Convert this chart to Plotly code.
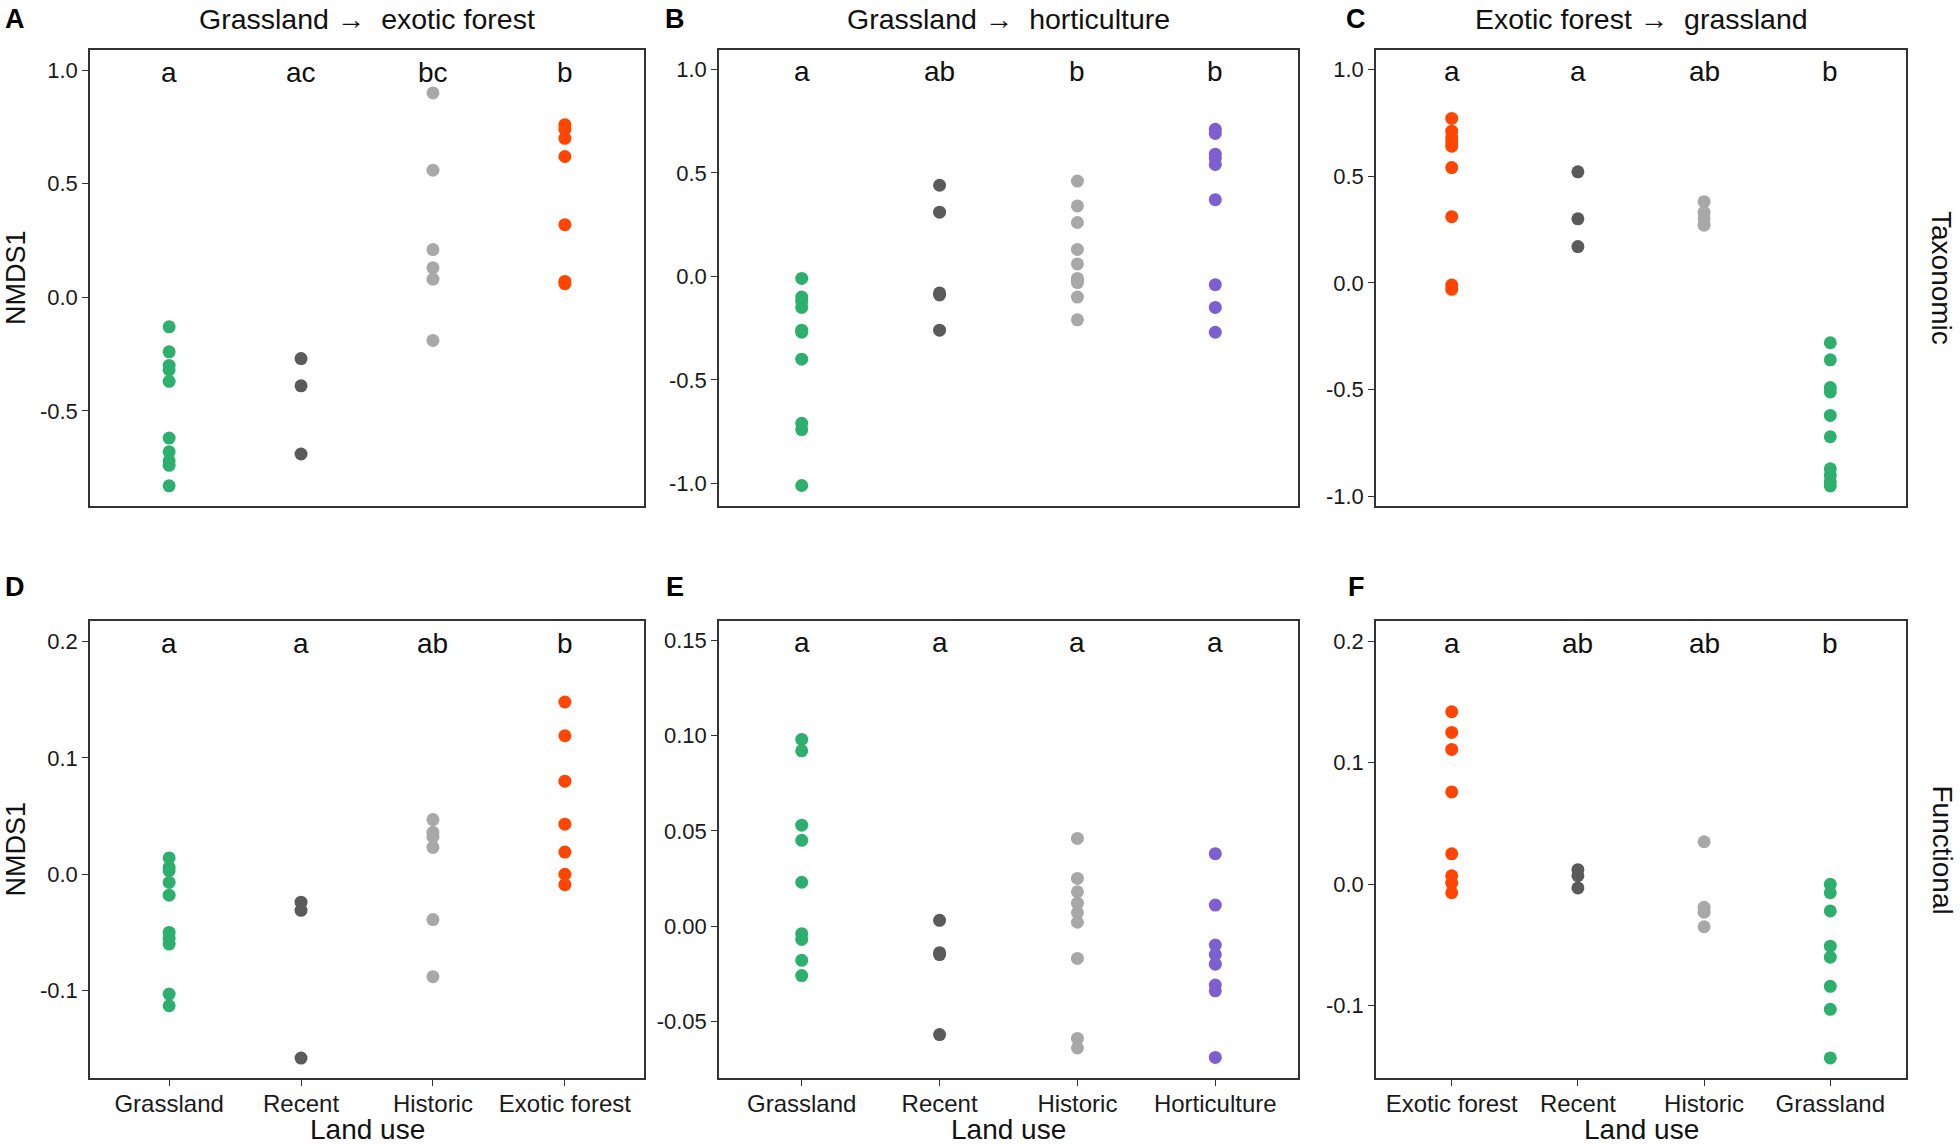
import plotly.graph_objects as go

# ---------------- DATA ----------------
TOP_TITLES = ["Grassland \u2192  exotic forest", "Grassland \u2192  horticulture", "Exotic forest \u2192  grassland"]
ROW_LABELS = ["Taxonomic", "Functional"]
PANEL_TAGS = ["A", "B", "C", "D", "E", "F"]

CATS_A = ["Grassland", "Recent", "Historic", "Exotic forest"]
CATS_B = ["Grassland", "Recent", "Historic", "Horticulture"]
CATS_C = ["Exotic forest", "Recent", "Historic", "Grassland"]

# Panel A (taxonomic, grassland -> exotic forest)
A_GRASSLAND = [-0.13, -0.24, -0.30, -0.32, -0.37, -0.62, -0.68, -0.72, -0.74, -0.83]
A_RECENT = [-0.27, -0.39, -0.69]
A_HISTORIC = [0.90, 0.56, 0.21, 0.13, 0.08, -0.19]
A_EXOTIC = [0.76, 0.74, 0.70, 0.62, 0.32, 0.07, 0.06]
A_LETTERS = ["a", "ac", "bc", "b"]

# Panel B (taxonomic, grassland -> horticulture)
B_GRASSLAND = [-0.01, -0.10, -0.12, -0.15, -0.26, -0.27, -0.40, -0.71, -0.74, -1.01]
B_RECENT = [0.44, 0.31, -0.08, -0.09, -0.26]
B_HISTORIC = [0.46, 0.34, 0.26, 0.13, 0.06, -0.01, -0.02, -0.03, -0.10, -0.21]
B_HORTI = [0.71, 0.69, 0.59, 0.57, 0.54, 0.37, -0.04, -0.15, -0.27]
B_LETTERS = ["a", "ab", "b", "b"]

# Panel C (taxonomic, exotic forest -> grassland)
C_EXOTIC = [0.77, 0.71, 0.68, 0.66, 0.64, 0.54, 0.31, -0.01, -0.03]
C_RECENT = [0.52, 0.30, 0.17]
C_HISTORIC = [0.38, 0.33, 0.30, 0.27]
C_GRASSLAND = [-0.28, -0.36, -0.49, -0.51, -0.62, -0.72, -0.87, -0.90, -0.93, -0.95]
C_LETTERS = ["a", "a", "ab", "b"]

# Panel D (functional, grassland -> exotic forest)
D_GRASSLAND = [0.014, 0.006, 0.003, -0.007, -0.018, -0.050, -0.055, -0.060, -0.103, -0.113]
D_RECENT = [-0.024, -0.031, -0.158]
D_HISTORIC = [0.047, 0.036, 0.032, 0.023, -0.039, -0.088]
D_EXOTIC = [0.148, 0.119, 0.080, 0.043, 0.019, 0.000, -0.009]
D_LETTERS = ["a", "a", "ab", "b"]

# Panel E (functional, grassland -> horticulture)
E_GRASSLAND = [0.098, 0.092, 0.053, 0.045, 0.023, -0.004, -0.007, -0.018, -0.026]
E_RECENT = [0.003, -0.014, -0.015, -0.057]
E_HISTORIC = [0.046, 0.025, 0.018, 0.012, 0.007, 0.002, -0.017, -0.059, -0.064]
E_HORTI = [0.038, 0.011, -0.010, -0.015, -0.020, -0.031, -0.034, -0.069]
E_LETTERS = ["a", "a", "a", "a"]

# Panel F (functional, exotic forest -> grassland)
F_EXOTIC = [0.142, 0.125, 0.111, 0.076, 0.025, 0.007, 0.001, -0.007]
F_RECENT = [0.012, 0.007, -0.003]
F_HISTORIC = [0.035, -0.019, -0.023, -0.035]
F_GRASSLAND = [0.000, -0.007, -0.022, -0.051, -0.060, -0.084, -0.103, -0.143]
F_LETTERS = ["a", "ab", "ab", "b"]

# y tick values
A_TICKS = [-0.5, 0.0, 0.5, 1.0]
B_TICKS = [-1.0, -0.5, 0.0, 0.5, 1.0]
C_TICKS = [-1.0, -0.5, 0.0, 0.5, 1.0]
D_TICKS = [-0.1, 0.0, 0.1, 0.2]
E_TICKS = [-0.05, 0.00, 0.05, 0.10, 0.15]
F_TICKS = [-0.1, 0.0, 0.1, 0.2]

# ---------------- STYLE ----------------
COL = {"Grassland": "#2DB06D", "Recent": "#5A5A5A", "Historic": "#A8A8A8",
       "Exotic forest": "#FF4500", "Horticulture": "#7E5FD0"}
FONT = "Liberation Sans, Arial, Helvetica, sans-serif"
W, H = 1960, 1144
XDOM = [(90 / W, 644 / W), (719 / W, 1298 / W), (1376 / W, 1906 / W)]
YDOM = [(1 - 506 / H, 1 - 50 / H), (1 - 1078 / H, 1 - 621 / H)]

panels = [
    (CATS_A, [A_GRASSLAND, A_RECENT, A_HISTORIC, A_EXOTIC], A_LETTERS, A_TICKS, 1, (-0.919, 1.089)),
    (CATS_B, [B_GRASSLAND, B_RECENT, B_HISTORIC, B_HORTI], B_LETTERS, B_TICKS, 1, (-1.109, 1.093)),
    (CATS_C, [C_EXOTIC, C_RECENT, C_HISTORIC, C_GRASSLAND], C_LETTERS, C_TICKS, 1, (-1.044, 1.090)),
    (CATS_A, [D_GRASSLAND, D_RECENT, D_HISTORIC, D_EXOTIC], D_LETTERS, D_TICKS, 1, (-0.1751, 0.2176)),
    (CATS_B, [E_GRASSLAND, E_RECENT, E_HISTORIC, E_HORTI], E_LETTERS, E_TICKS, 2, (-0.0798, 0.1602)),
    (CATS_C, [F_EXOTIC, F_RECENT, F_HISTORIC, F_GRASSLAND], F_LETTERS, F_TICKS, 1, (-0.1595, 0.2167)),
]

fig = go.Figure()
annotations = []
layout = {}

for i, (cats, series, letters, ticks, dec, yr) in enumerate(panels):
    r, c = divmod(i, 3)
    n = i + 1
    xa = "x" if n == 1 else f"x{n}"
    ya = "y" if n == 1 else f"y{n}"
    for k, (cat, vals) in enumerate(zip(cats, series)):
        fig.add_trace(go.Scatter(
            x=[k + 1] * len(vals), y=vals, mode="markers", xaxis=xa, yaxis=ya,
            marker=dict(size=13, color=COL[cat], line=dict(width=0)),
            showlegend=False, name=cat, hoverinfo="y"))
    for k, lt in enumerate(letters):
        annotations.append(dict(x=k + 1, y=ticks[-1], xref=xa, yref=ya, text=lt,
                                showarrow=False, yanchor="middle", yshift=-2,
                                font=dict(size=28, color="#111", family=FONT)))
    bottom = (r == 1)
    layout[("xaxis" if n == 1 else f"xaxis{n}")] = dict(
        domain=list(XDOM[c]), anchor=ya, range=[0.4, 4.6], automargin=False,
        tickvals=[1, 2, 3, 4], ticktext=cats, showticklabels=bottom,
        ticks="outside" if bottom else "", ticklen=6, tickwidth=1.3, tickcolor="#333",
        ticklabelstandoff=-3,
        tickfont=dict(size=24, color="#1a1a1a", family=FONT),
        showline=True, linecolor="#333", linewidth=1.5, mirror=True,
        showgrid=False, zeroline=False, fixedrange=True)
    fmt = "{:.%df}" % dec
    layout[("yaxis" if n == 1 else f"yaxis{n}")] = dict(
        domain=list(YDOM[r]), anchor=xa, range=list(yr), automargin=False,
        tickvals=ticks, ticktext=[fmt.format(t) for t in ticks],
        ticks="outside", ticklen=6, tickwidth=1.3, tickcolor="#333",
        tickfont=dict(size=22, color="#1a1a1a", family=FONT),
        showline=True, linecolor="#333", linewidth=1.5, mirror=True,
        showgrid=False, zeroline=False, fixedrange=True)
    # panel tag
    tag_x = [15, 675, 1356][c]
    tag_y = [19, 587][r]
    annotations.append(dict(x=tag_x / W, y=1 - tag_y / H, xref="paper", yref="paper",
                            text=f"<b>{PANEL_TAGS[i]}</b>", showarrow=False,
                            xanchor="center", yanchor="middle",
                            font=dict(size=27, color="#000", family=FONT)))

# top strip titles
for c, t in enumerate(TOP_TITLES):
    annotations.append(dict(x=sum(XDOM[c]) / 2, y=1 - 19 / H, xref="paper", yref="paper",
                            text=t, showarrow=False, xanchor="center", yanchor="middle",
                            font=dict(size=28.5, color="#111", family=FONT)))
# right strip labels
for r, t in enumerate(ROW_LABELS):
    annotations.append(dict(x=1942 / W, y=sum(YDOM[r]) / 2, xref="paper", yref="paper",
                            text=t, textangle=90, showarrow=False,
                            xanchor="center", yanchor="middle",
                            font=dict(size=28, color="#111", family=FONT)))
# y axis titles (left column)
for r in range(2):
    annotations.append(dict(x=16 / W, y=sum(YDOM[r]) / 2, xref="paper", yref="paper",
                            text="NMDS1", textangle=-90, showarrow=False,
                            xanchor="center", yanchor="middle",
                            font=dict(size=27, color="#111", family=FONT)))
# x axis titles (bottom row)
for c in range(3):
    annotations.append(dict(x=sum(XDOM[c]) / 2, y=1 - 1129 / H, xref="paper", yref="paper",
                            text="Land use", showarrow=False,
                            xanchor="center", yanchor="middle",
                            font=dict(size=28, color="#111", family=FONT)))

fig.update_layout(**layout)
fig.update_layout(width=W, height=H, margin=dict(l=0, r=0, t=0, b=0, autoexpand=False),
                  paper_bgcolor="white", plot_bgcolor="white",
                  font=dict(family=FONT), annotations=annotations, showlegend=False)

fig.write_html("out.html", config={"displayModeBar": False},
               post_script="document.body.style.margin='0';document.body.style.padding='0';"
                           "document.body.style.overflow='hidden';")
